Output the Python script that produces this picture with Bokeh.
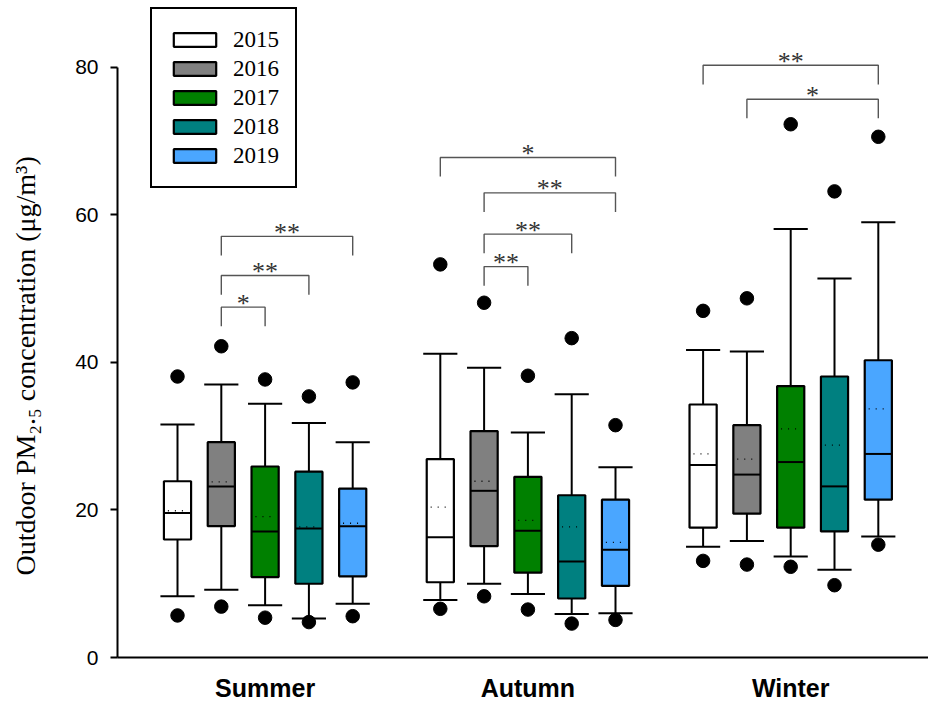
from bokeh.plotting import figure
from bokeh.models import Range1d, FixedTicker, Legend, LegendItem, ColumnDataSource, Title
from bokeh.embed import file_html
from bokeh.resources import INLINE
from bokeh.core.properties import value

seasons = ["Summer", "Autumn", "Winter"]
years = ["2015", "2016", "2017", "2018", "2019"]
colors = ["#ffffff", "#808080", "#008000", "#008080", "#4aa6ff"]

# statistics, season-major order: Summer 2015..2019, Autumn 2015..2019, Winter 2015..2019
whisker_low = [8.3, 9.2, 7.1, 5.3, 7.3,
               7.8, 10.0, 8.6, 5.9, 6.0,
               15.0, 15.8, 13.7, 11.9, 16.4]
q1 = [16.0, 17.8, 10.9, 10.0, 11.0,
      10.2, 15.1, 11.5, 8.0, 9.7,
      17.6, 19.5, 17.6, 17.1, 21.4]
median = [19.6, 23.2, 17.1, 17.5, 17.8,
          16.3, 22.6, 17.2, 13.0, 14.6,
          26.1, 24.8, 26.5, 23.2, 27.6]
mean = [19.9, 23.8, 19.1, 17.7, 18.2,
        20.4, 23.9, 18.6, 17.7, 15.6,
        27.6, 26.9, 31.0, 28.8, 33.7]
q3 = [23.9, 29.2, 25.9, 25.2, 22.9,
      26.9, 30.7, 24.5, 22.0, 21.4,
      34.3, 31.5, 36.8, 38.1, 40.3]
whisker_high = [31.6, 37.0, 34.4, 31.8, 29.2,
                41.2, 39.3, 30.5, 35.7, 25.8,
                41.7, 41.5, 58.1, 51.4, 59.0]
outlier_low = [5.7, 6.9, 5.4, 4.8, 5.6,
               6.6, 8.3, 6.5, 4.6, 5.1,
               13.1, 12.6, 12.3, 9.8, 15.3]
outlier_high = [38.1, 42.2, 37.7, 35.4, 37.3,
                53.3, 48.1, 38.2, 43.3, 31.5,
                47.0, 48.7, 72.3, 63.2, 70.6]

# significance brackets
bracket_season = [0, 0, 0, 1, 1, 1, 1, 2, 2]
bracket_from = [1, 1, 1, 1, 1, 1, 0, 0, 1]
bracket_to = [2, 3, 4, 2, 3, 4, 4, 4, 4]
bracket_level = [47.5, 51.8, 57.1, 53.0, 57.4, 63.0, 67.8, 80.3, 75.7]
bracket_label = ["*", "**", "**", "**", "**", "**", "*", "**", "*"]

y_ticks = [0, 20, 40, 60, 80]
y_title = "Outdoor PM\u2082.\u2085 concentration (\u03bcg/m\u00b3)"

GROUP = 6      # slots per season
BOX_W = 0.62
CAP_W = 0.78
MEAN_W = 0.44
LEG = 2.6

pos = [s * GROUP + j for s in range(len(seasons)) for j in range(len(years))]

p = figure(width=928, height=704, output_backend="svg", toolbar_location=None,
           x_range=Range1d(-1.37, 17.146), y_range=Range1d(0, 89.08),
           min_border_left=117, min_border_right=0, min_border_top=0, min_border_bottom=47)
p.outline_line_color = None
p.xgrid.visible = False
p.ygrid.visible = False
p.background_fill_color = "white"
p.border_fill_color = "white"

# whiskers
p.segment(x0=pos, y0=whisker_low, x1=pos, y1=whisker_high, line_color="black", line_width=2)
p.segment(x0=[x - CAP_W / 2 for x in pos], y0=whisker_low, x1=[x + CAP_W / 2 for x in pos],
          y1=whisker_low, line_color="black", line_width=2)
p.segment(x0=[x - CAP_W / 2 for x in pos], y0=whisker_high, x1=[x + CAP_W / 2 for x in pos],
          y1=whisker_high, line_color="black", line_width=2)

# boxes, one renderer per year
box_renderers = []
for j, yr in enumerate(years):
    idx = [s * len(years) + j for s in range(len(seasons))]
    src = ColumnDataSource(dict(x=[pos[i] for i in idx], top=[q3[i] for i in idx],
                                bottom=[q1[i] for i in idx]))
    r = p.vbar(x="x", top="top", bottom="bottom", width=BOX_W, source=src,
               fill_color=colors[j], line_color="black", line_width=2.2)
    box_renderers.append(r)

# medians
p.segment(x0=[x - BOX_W / 2 for x in pos], y0=median, x1=[x + BOX_W / 2 for x in pos],
          y1=median, line_color="black", line_width=2)
# means (dotted)
p.segment(x0=[x - MEAN_W / 2 for x in pos], y0=mean, x1=[x + MEAN_W / 2 for x in pos],
          y1=mean, line_color="black", line_width=1.3, line_dash="1 6")

# outliers
p.scatter(x=pos + pos, y=outlier_low + outlier_high, size=13.5, marker="circle",
          fill_color="black", line_color="black")

# brackets
bxs, bys, tx, ty = [], [], [], []
for s, a, b, lvl in zip(bracket_season, bracket_from, bracket_to, bracket_level):
    xa = s * GROUP + a
    xb = s * GROUP + b
    bxs.append([xa, xa, xb, xb])
    bys.append([lvl - LEG, lvl, lvl, lvl - LEG])
    tx.append((xa + xb) / 2)
    ty.append(lvl)
p.multi_line(xs=bxs, ys=bys, line_color="#555555", line_width=1.4)
p.text(x=tx, y=ty, text=bracket_label, text_align="center", text_baseline="alphabetic",
       y_offset=-4, text_font=value("Liberation Serif"), text_font_size="26px",
       text_color="#333333")

# axes
ya = p.yaxis[0]
ya.ticker = FixedTicker(ticks=y_ticks)
ya.bounds = (y_ticks[0], y_ticks[-1])
ya.axis_line_width = 2
ya.axis_line_color = "black"
ya.major_tick_line_width = 2
ya.major_tick_out = 7
ya.major_tick_in = 0
ya.minor_tick_line_color = None
ya.major_label_text_font = "Liberation Sans"
ya.major_label_text_font_size = "21px"
ya.major_label_text_color = "black"
ya.major_label_standoff = 12
# blank axis label used only as a spacer between tick labels and the title
ya.axis_label = " "
ya.axis_label_text_font_size = "2px"
ya.axis_label_standoff = 24

ytitle = Title(text=y_title, align="left", offset=82, standoff=4,
               text_font="Liberation Serif", text_font_size="28px",
               text_font_style="normal", text_color="black")
p.add_layout(ytitle, "left")

xa = p.xaxis[0]
xa.ticker = FixedTicker(ticks=[s * GROUP + 2 for s in range(len(seasons))])
xa.major_label_overrides = {s * GROUP + 2: name for s, name in enumerate(seasons)}
xa.axis_line_width = 2
xa.axis_line_color = "black"
xa.major_tick_out = 0
xa.major_tick_in = 0
xa.minor_tick_line_color = None
xa.major_label_text_font = "Liberation Sans"
xa.major_label_text_font_size = "25px"
xa.major_label_text_font_style = "bold"
xa.major_label_text_color = "black"
xa.major_label_standoff = 16

legend = Legend(items=[LegendItem(label=yr, renderers=[r]) for yr, r in zip(years, box_renderers)],
                location=(33, 469))
legend.border_line_color = "black"
legend.border_line_alpha = 1
legend.border_line_width = 2
legend.background_fill_color = "white"
legend.background_fill_alpha = 1
legend.label_text_font = "Liberation Serif"
legend.label_text_font_size = "23px"
legend.label_text_color = "black"
legend.glyph_width = 53
legend.glyph_height = 17
legend.label_height = 29
legend.spacing = 0
legend.padding = 16
legend.label_standoff = 12
legend.margin = 0
p.add_layout(legend)

open("out.html", "w").write(file_html(p, INLINE))
